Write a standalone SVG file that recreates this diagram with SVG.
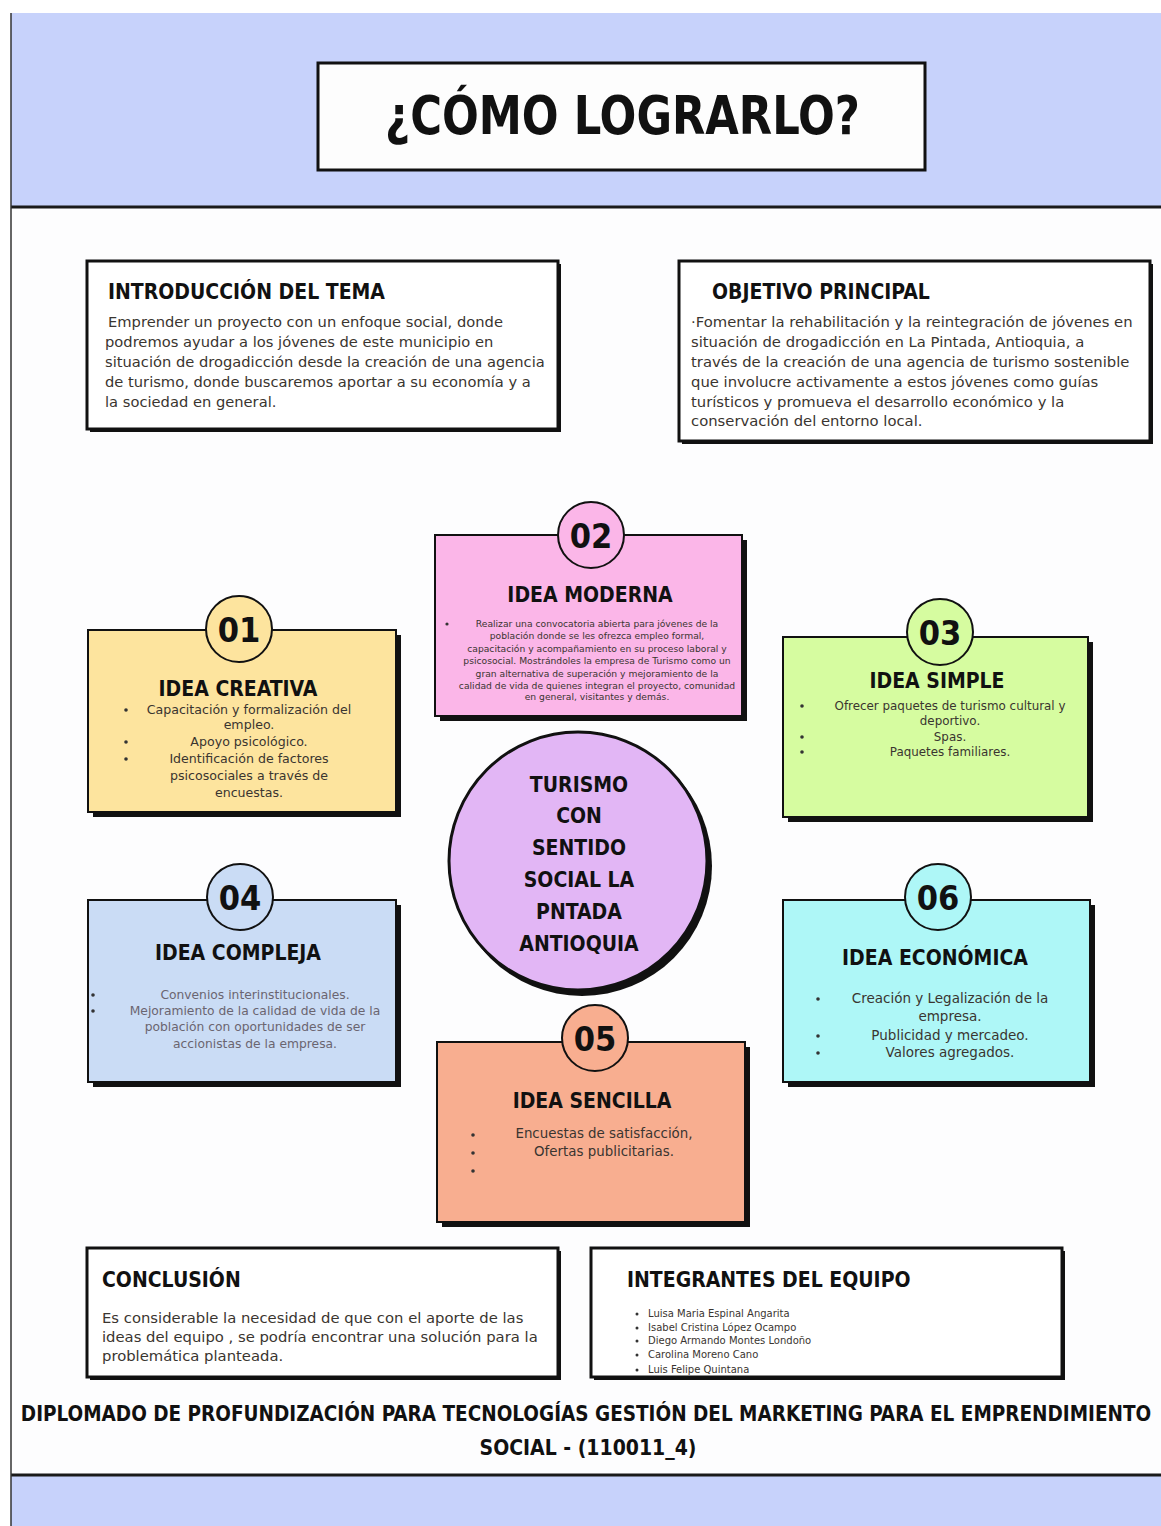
<svg xmlns="http://www.w3.org/2000/svg" width="1161" height="1526" viewBox="0 0 1161 1526">
<style>
.h{font-family:"DejaVu Sans","Liberation Sans",sans-serif;font-stretch:condensed;font-weight:bold;fill:#111}
.b{font-family:"DejaVu Sans","Liberation Sans",sans-serif;fill:#3a3530}
.box{stroke:#111;stroke-width:3}
.sh{fill:#111}
.card{stroke:#111;stroke-width:2}
.num{stroke:#111;stroke-width:2}
</style>
<rect x="0" y="0" width="1161" height="1526" fill="#ffffff"/>
<rect x="11" y="13" width="1150" height="1513" fill="#fdfdfe"/>
<rect x="11" y="13" width="1150" height="193" fill="#c7d2fb"/>
<line x1="11" y1="207" x2="1161" y2="207" stroke="#1a1a1a" stroke-width="3"/>
<rect x="11" y="1476" width="1150" height="50" fill="#c7d2fb"/>
<line x1="11" y1="1475" x2="1161" y2="1475" stroke="#1a1a1a" stroke-width="3"/>
<line x1="11" y1="13" x2="11" y2="1526" stroke="#333" stroke-width="1.5"/>

<g id="title">
<rect x="318" y="63" width="607" height="107" fill="#fdfdfd" class="box"/>
<text x="385" y="134" class="h" font-size="54" textLength="475" lengthAdjust="spacingAndGlyphs">¿CÓMO LOGRARLO?</text>
</g>

<g id="intro">
<rect x="90" y="264" width="471" height="168" class="sh"/>
<rect x="87" y="261" width="471" height="168" fill="#fff" class="box"/>
<text x="108" y="299" class="h" font-size="21">INTRODUCCIÓN DEL TEMA</text>
<g class="b" font-size="14.7">
<text x="108" y="327"> Emprender un proyecto con un enfoque social, donde</text>
<text x="105" y="347">podremos ayudar a los jóvenes de este municipio en</text>
<text x="105" y="367">situación de drogadicción desde la creación de una agencia</text>
<text x="105" y="387">de turismo, donde buscaremos aportar a su economía y a</text>
<text x="105" y="407">la sociedad en general.</text>
</g>
</g>

<g id="objetivo">
<rect x="682" y="264" width="471" height="180" class="sh"/>
<rect x="679" y="261" width="471" height="180" fill="#fff" class="box"/>
<text x="712" y="299" class="h" font-size="21">OBJETIVO PRINCIPAL</text>
<g class="b" font-size="14.8">
<text x="691" y="327">·Fomentar la rehabilitación y la reintegración de jóvenes en</text>
<text x="691" y="347">situación de drogadicción en La Pintada, Antioquia, a</text>
<text x="691" y="367">través de la creación de una agencia de turismo sostenible</text>
<text x="691" y="387">que involucre activamente a estos jóvenes como guías</text>
<text x="691" y="407">turísticos y promueva el desarrollo económico y la</text>
<text x="691" y="426">conservación del entorno local.</text>
</g>
</g>

<g id="idea02">
<rect x="440" y="540" width="307" height="181" class="sh"/>
<rect x="435" y="535" width="307" height="181" fill="#fbb6e8" class="card"/>
<circle cx="591" cy="535" r="33" fill="#fbb6e8" class="num"/>
<text x="591" y="548" class="h" font-size="34" text-anchor="middle">02</text>
<text x="590" y="602" class="h" font-size="21" text-anchor="middle">IDEA MODERNA</text>
<circle cx="447" cy="624" r="1.6" fill="#333"/>
<g class="b" font-size="9.2" text-anchor="middle">
<text x="597" y="627">Realizar una convocatoria abierta para jóvenes de la</text>
<text x="597" y="639">población donde se les ofrezca empleo formal,</text>
<text x="597" y="652">capacitación y acompañamiento en su proceso laboral y</text>
<text x="597" y="664">psicosocial. Mostrándoles la empresa de Turismo como un</text>
<text x="597" y="677">gran alternativa de superación y mejoramiento de la</text>
<text x="597" y="689">calidad de vida de quienes integran el proyecto, comunidad</text>
<text x="597" y="700">en general, visitantes y demás.</text>
</g>
</g>

<g id="idea01">
<rect x="93" y="635" width="308" height="182" class="sh"/>
<rect x="88" y="630" width="308" height="182" fill="#fde49e" class="card"/>
<circle cx="239" cy="629" r="33" fill="#fde49e" class="num"/>
<text x="239" y="642" class="h" font-size="34" text-anchor="middle">01</text>
<text x="238" y="696" class="h" font-size="21" text-anchor="middle">IDEA CREATIVA</text>
<g fill="#333"><circle cx="126" cy="710" r="1.8"/><circle cx="126" cy="742" r="1.8"/><circle cx="126" cy="759" r="1.8"/></g>
<g class="b" font-size="12.6" text-anchor="middle">
<text x="249" y="714">Capacitación y formalización del</text>
<text x="249" y="729">empleo.</text>
<text x="249" y="746">Apoyo psicológico.</text>
<text x="249" y="763">Identificación de factores</text>
<text x="249" y="780">psicosociales  a través de</text>
<text x="249" y="797">encuestas.</text>
</g>
</g>

<g id="idea03">
<rect x="788" y="642" width="305" height="180" class="sh"/>
<rect x="783" y="637" width="305" height="180" fill="#d6fca0" class="card"/>
<circle cx="940" cy="632" r="33" fill="#d6fca0" class="num"/>
<text x="940" y="645" class="h" font-size="34" text-anchor="middle">03</text>
<text x="937" y="688" class="h" font-size="21" text-anchor="middle">IDEA SIMPLE</text>
<g fill="#333"><circle cx="802" cy="706" r="1.8"/><circle cx="802" cy="737" r="1.8"/><circle cx="802" cy="752" r="1.8"/></g>
<g class="b" font-size="11.9" text-anchor="middle">
<text x="950" y="710">Ofrecer paquetes  de turismo cultural y</text>
<text x="950" y="725">deportivo.</text>
<text x="950" y="741">Spas.</text>
<text x="950" y="756">Paquetes familiares.</text>
</g>
</g>

<g id="centro">
<circle cx="582" cy="866" r="130" fill="#111"/>
<circle cx="578" cy="861" r="129" fill="#e2b6f5" stroke="#111" stroke-width="3"/>
<g class="h" font-size="21" text-anchor="middle">
<text x="579" y="792">TURISMO</text>
<text x="579" y="823">CON</text>
<text x="579" y="855">SENTIDO</text>
<text x="579" y="887">SOCIAL LA</text>
<text x="579" y="919">PNTADA</text>
<text x="579" y="951">ANTIOQUIA</text>
</g>
</g>

<g id="idea04">
<rect x="93" y="905" width="308" height="182" class="sh"/>
<rect x="88" y="900" width="308" height="182" fill="#cadcf5" class="card"/>
<circle cx="240" cy="897" r="33" fill="#cadcf5" class="num"/>
<text x="240" y="910" class="h" font-size="34" text-anchor="middle">04</text>
<text x="238" y="960" class="h" font-size="21" text-anchor="middle">IDEA COMPLEJA</text>
<g fill="#333"><circle cx="93" cy="995" r="1.8"/><circle cx="93" cy="1011" r="1.8"/></g>
<g class="b" font-size="12.3" text-anchor="middle" style="fill:#6a6570">
<text x="255" y="999">Convenios interinstitucionales.</text>
<text x="255" y="1015">Mejoramiento de la calidad de vida de la</text>
<text x="255" y="1031">población con oportunidades de ser</text>
<text x="255" y="1048">accionistas de la empresa.</text>
</g>
</g>

<g id="idea06">
<rect x="788" y="905" width="307" height="182" class="sh"/>
<rect x="783" y="900" width="307" height="182" fill="#aef7f7" class="card"/>
<circle cx="938" cy="897" r="33" fill="#aef7f7" class="num"/>
<text x="938" y="910" class="h" font-size="34" text-anchor="middle">06</text>
<text x="935" y="965" class="h" font-size="21" text-anchor="middle">IDEA ECONÓMICA</text>
<g fill="#333"><circle cx="818" cy="999" r="1.8"/><circle cx="818" cy="1036" r="1.8"/><circle cx="818" cy="1053" r="1.8"/></g>
<g class="b" font-size="13.5" text-anchor="middle">
<text x="950" y="1003">Creación y Legalización de la</text>
<text x="950" y="1021">empresa.</text>
<text x="950" y="1040">Publicidad y mercadeo.</text>
<text x="950" y="1057">Valores agregados.</text>
</g>
</g>

<g id="idea05">
<rect x="442" y="1047" width="308" height="180" class="sh"/>
<rect x="437" y="1042" width="308" height="180" fill="#f8ae90" class="card"/>
<circle cx="595" cy="1038" r="33" fill="#f8ae90" class="num"/>
<text x="595" y="1051" class="h" font-size="34" text-anchor="middle">05</text>
<text x="592" y="1108" class="h" font-size="21" text-anchor="middle">IDEA SENCILLA</text>
<g fill="#333"><circle cx="473" cy="1135" r="1.8"/><circle cx="473" cy="1153" r="1.8"/><circle cx="473" cy="1171" r="1.8"/></g>
<g class="b" font-size="13.4" text-anchor="middle">
<text x="604" y="1138">Encuestas de satisfacción,</text>
<text x="604" y="1156">Ofertas publicitarias.</text>
</g>
</g>

<g id="conclusion">
<rect x="90" y="1251" width="471" height="129" class="sh"/>
<rect x="87" y="1248" width="471" height="129" fill="#fff" class="box"/>
<text x="102" y="1287" class="h" font-size="21">CONCLUSIÓN</text>
<g class="b" font-size="14.8">
<text x="102" y="1323">Es considerable la necesidad de que con el aporte de las</text>
<text x="102" y="1342">ideas del equipo , se podría encontrar una solución para la</text>
<text x="102" y="1361">problemática planteada.</text>
</g>
</g>

<g id="integrantes">
<rect x="594" y="1251" width="471" height="129" class="sh"/>
<rect x="591" y="1248" width="471" height="129" fill="#fff" class="box"/>
<text x="627" y="1287" class="h" font-size="21">INTEGRANTES DEL EQUIPO</text>
<g fill="#333"><circle cx="637" cy="1314" r="1.5"/><circle cx="637" cy="1328" r="1.5"/><circle cx="637" cy="1341" r="1.5"/><circle cx="637" cy="1355" r="1.5"/><circle cx="637" cy="1370" r="1.5"/></g>
<g class="b" font-size="10">
<text x="648" y="1317">Luisa Maria Espinal Angarita</text>
<text x="648" y="1331">Isabel Cristina López Ocampo</text>
<text x="648" y="1344">Diego Armando Montes Londoño</text>
<text x="648" y="1358">Carolina Moreno Cano</text>
<text x="648" y="1373">Luis Felipe Quintana</text>
</g>
</g>

<g id="footer">
<text x="586" y="1421" class="h" font-size="20.5" text-anchor="middle">DIPLOMADO DE PROFUNDIZACIÓN PARA TECNOLOGÍAS GESTIÓN DEL MARKETING PARA EL EMPRENDIMIENTO</text>
<text x="588" y="1455" class="h" font-size="21" text-anchor="middle">SOCIAL - (110011_4)</text>
</g>
<g id="connectors"/>
</svg>
